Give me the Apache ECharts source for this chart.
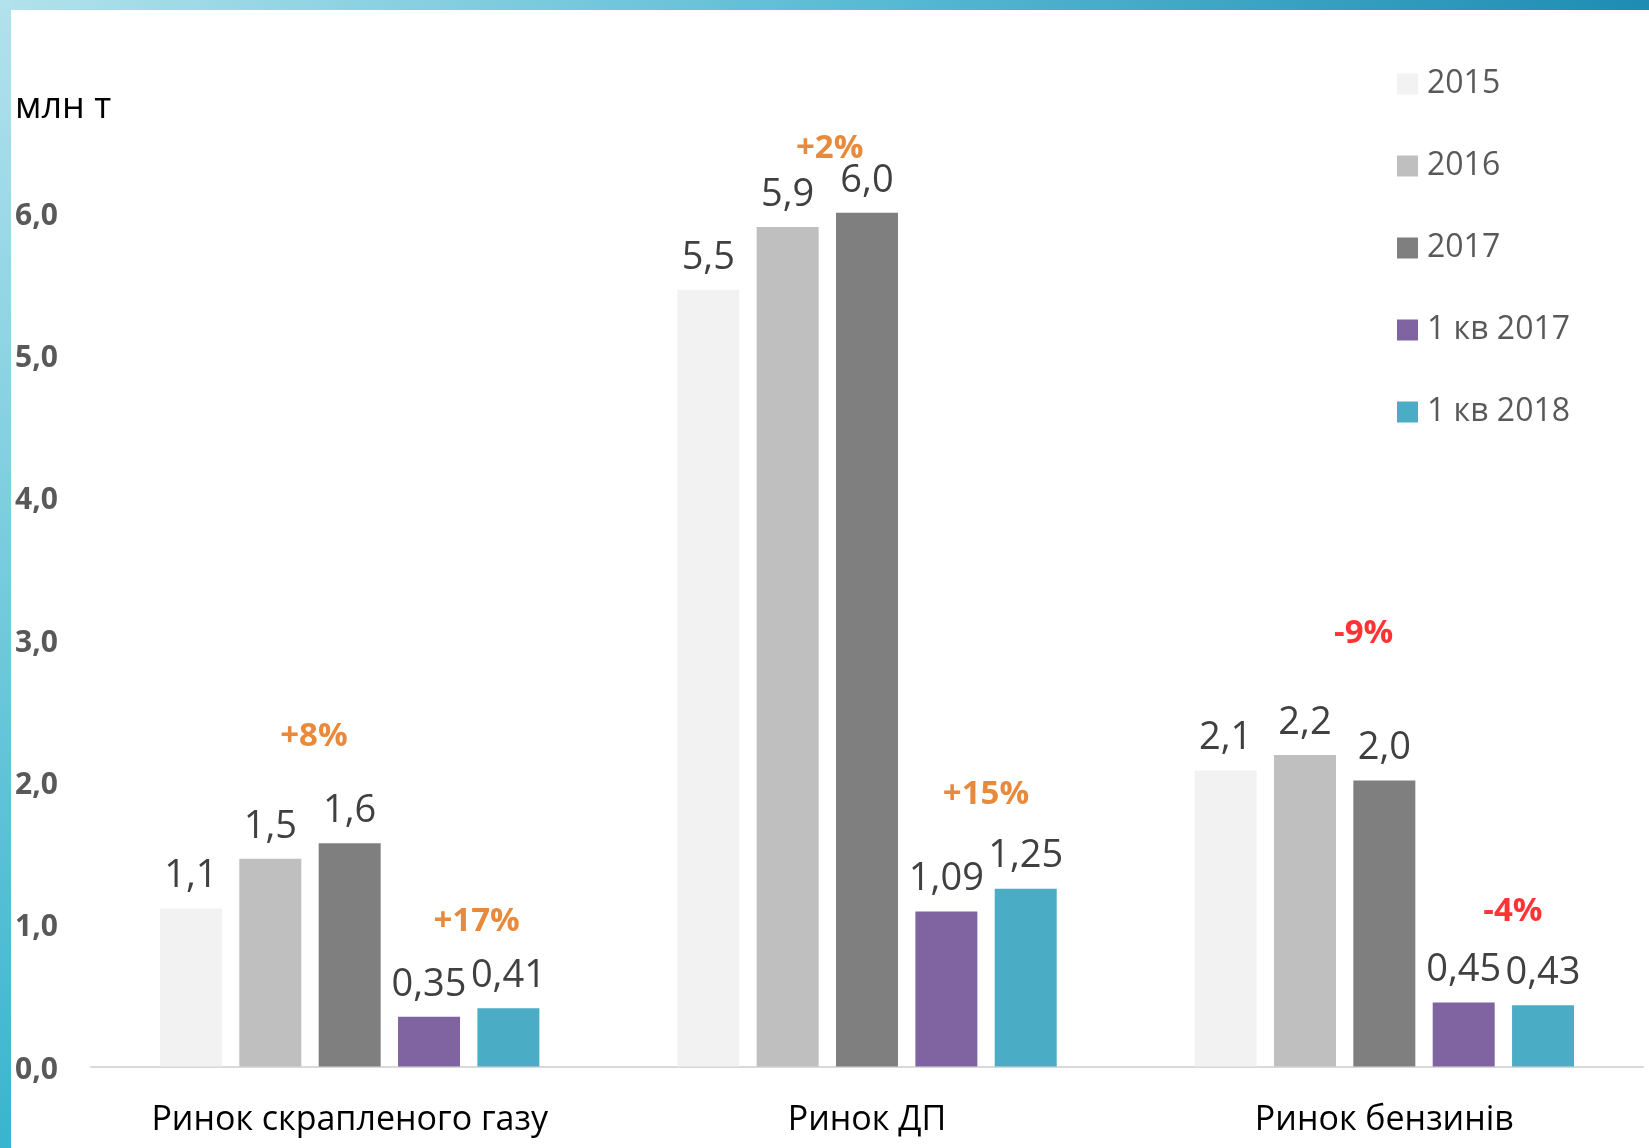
<!DOCTYPE html>
<html>
<head>
<meta charset="utf-8">
<script src="https://cdn.jsdelivr.net/npm/echarts@6/dist/echarts.min.js"></script>
<style>
  html, body { margin: 0; padding: 0; background: #fff; }
  #chart { width: 1649px; height: 1148px; }
</style>
</head>
<body>
<div id="chart"></div>
<script>
// категорії та ряди (млн т)
const categories = ['Ринок скрапленого газу', 'Ринок ДП', 'Ринок бензинів'];
const seriesNames = ['2015', '2016', '2017', '1 кв 2017', '1 кв 2018'];
const v2015 = [1.11, 5.46, 2.08];
const v2016 = [1.46, 5.90, 2.19];
const v2017 = [1.57, 6.00, 2.01];
const q2017 = [0.35, 1.09, 0.45];
const q2018 = [0.41, 1.25, 0.43];
const decimals = [1, 1, 1, 2, 2];
const yTicks = [0, 1, 2, 3, 4, 5, 6];

// приріст: текст, категорія, зсув у "слотах" від центру групи, висота
const growthText = ['+8%', '+17%', '+2%', '+15%', '-9%', '-4%'];
const growthCat = [0, 0, 1, 1, 2, 2];
const growthSlot = [-0.45, 1.6, -0.47, 1.5, -0.26, 1.62];
const growthY = [2.32, 1.02, 6.45, 1.91, 3.04, 1.09];
const growthColor = ['#E46C0A', '#E46C0A', '#E46C0A', '#E46C0A', '#FF0000', '#FF0000'];

const colors = ['#F2F2F2', '#BFBFBF', '#7F7F7F', '#8064A2', '#4BACC6'];
const allValues = [v2015, v2016, v2017, q2017, q2018];

const FONT = '"Open Sans", "DejaVu Sans", sans-serif';
const W = 1649, H = 1148;
const GRID_L = 91, GRID_R = 6;
const BAR_W = 62, BAR_GAP = 0.28;
const catWidth = (W - GRID_L - GRID_R) / categories.length;
const slotUnit = BAR_W * (1 + BAR_GAP) / catWidth;

const chart = echarts.init(document.getElementById('chart'));

const barSeries = seriesNames.map((name, i) => ({
    name: name,
    type: 'bar',
    data: allValues[i],
    barWidth: BAR_W,
    barGap: (BAR_GAP * 100) + '%',
    itemStyle: { color: colors[i] },
    label: {
        show: true,
        position: 'top',
        distance: 13,
        fontFamily: FONT,
        fontSize: 38,
        color: '#404040',
        formatter: p => p.value.toFixed(decimals[i]).replace('.', ',')
    }
}));

const growthData = growthText.map((t, i) => ({
    value: [growthCat[i] + growthSlot[i] * slotUnit, growthY[i]],
    label: { formatter: t, color: growthColor[i] }
}));

const option = {
    backgroundColor: '#fff',
    animation: false,
    graphic: [
        {   // верхня смуга
            type: 'rect', left: 0, top: 0, z: 100,
            shape: { width: W, height: 10 },
            style: {
                fill: new echarts.graphic.LinearGradient(0, 0, 1, 0, [
                    { offset: 0, color: '#B2E2EC' },
                    { offset: 0.5, color: '#5CBDD5' },
                    { offset: 1, color: '#1E8CB3' }
                ])
            }
        },
        {   // ліва смуга
            type: 'rect', left: 0, top: 0, z: 100,
            shape: { width: 11, height: H },
            style: {
                fill: new echarts.graphic.LinearGradient(0, 0, 0, 1, [
                    { offset: 0, color: '#B2E2EC' },
                    { offset: 1, color: '#3AB4CF' }
                ])
            }
        },
        {
            type: 'text', left: 15, top: 90,
            style: { text: 'млн т', font: '36px ' + FONT, fill: '#000' }
        }
    ],
    legend: {
        orient: 'vertical',
        left: 1392,
        top: 63,
        itemWidth: 21,
        itemHeight: 21,
        itemGap: 50,
        icon: 'rect',
        data: seriesNames,
        textStyle: { fontFamily: FONT, fontSize: 32, color: '#595959', lineHeight: 32, padding: [0, 0, 0, 4] }
    },
    grid: { left: GRID_L, right: GRID_R, top: 70.6, bottom: 81.5, containLabel: false },
    xAxis: [
        {
            type: 'category',
            data: categories,
            axisTick: { show: false },
            axisLine: { lineStyle: { color: '#D9D9D9', width: 2 } },
            axisLabel: { fontFamily: FONT, fontSize: 34, color: '#000', margin: 37 }
        },
        { type: 'value', min: -0.5, max: 2.5, show: false }
    ],
    yAxis: {
        type: 'value',
        min: yTicks[0],
        max: 7,
        interval: 1,
        splitLine: { show: false },
        axisLine: { show: false },
        axisTick: { show: false },
        axisLabel: {
            align: 'left',
            margin: GRID_L - 15,
            formatter: v => yTicks.indexOf(v) >= 0 ? '{t|' + v.toFixed(1).replace('.', ',') + '}' : '',
            rich: {
                t: {
                    fontFamily: FONT,
                    fontSize: 30,
                    fontWeight: 'bold',
                    color: '#595959',
                    padding: [7, 0, 0, 0]
                }
            }
        }
    },
    series: barSeries.concat([{
        type: 'scatter',
        xAxisIndex: 1,
        symbolSize: 0,
        silent: true,
        data: growthData,
        label: {
            show: true,
            position: 'inside',
            fontFamily: FONT,
            fontSize: 33,
            fontWeight: 'bold'
        }
    }])
};

chart.setOption(option);
</script>
</body>
</html>
